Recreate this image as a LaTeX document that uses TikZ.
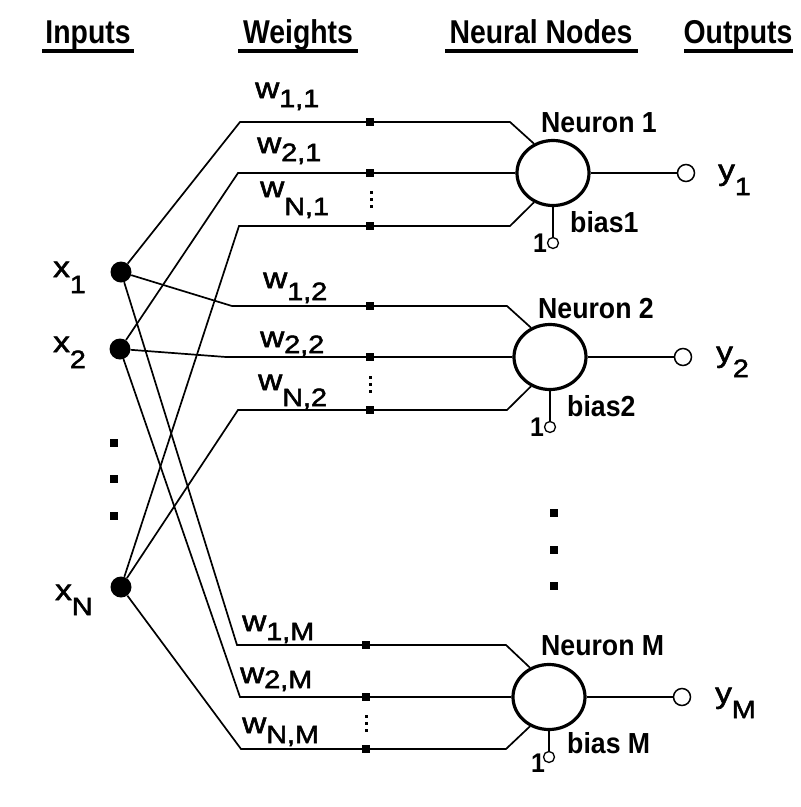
\documentclass[tikz,border=0pt]{standalone}
\usepackage{fontspec}
\setmainfont{Liberation Sans}
\newfontfamily\headfont{Liberation Sans}[FakeStretch=0.86]
\newfontfamily\tagfont{Liberation Sans}[FakeStretch=0.92]
\newfontfamily\varfont{Liberation Sans}[FakeStretch=1.15,FakeBold=2]
\usetikzlibrary{shapes.geometric}
% lowered subscript in a smaller size
\newcommand\lowsub[2]{\raisebox{-#1pt}{\fontsize{25}{25}\selectfont #2}}
\begin{document}
\begin{tikzpicture}[x=1pt,y=-1pt,
  wire/.style={line width=1.7pt},
  uline/.style={line width=3.2pt},
  neuron/.style={ellipse,draw,line width=3.2pt,minimum width=72pt,minimum height=65pt,inner sep=0pt},
  innode/.style={circle,fill,minimum size=21pt,inner sep=0pt},
  wmark/.style={rectangle,fill,minimum size=7.5pt,inner sep=0pt},
  tinydot/.style={rectangle,fill,minimum size=3pt,inner sep=0pt},
  bigdot/.style={rectangle,fill,minimum size=8pt,inner sep=0pt},
  outnode/.style={circle,draw,line width=1.5pt,fill=white,minimum size=17pt,inner sep=0pt},
  biasnode/.style={circle,draw,line width=1.3pt,fill=white,minimum size=11pt,inner sep=0pt},
  head/.style={font=\headfont\bfseries\fontsize{33}{33}\selectfont,inner sep=0pt,anchor=base},
  tag/.style={font=\tagfont\bfseries\fontsize{29}{29}\selectfont,inner sep=0pt,anchor=base west},
  one/.style={font=\tagfont\bfseries\fontsize{27}{27}\selectfont,inner sep=0pt,anchor=base},
  var/.style={font=\varfont\fontsize{29}{29}\selectfont,inner sep=0pt,anchor=base west}]
\useasboundingbox[fill=white] (0,0) rectangle (801,807);

% column headers
\node[head] (hin) at (88,43) {Inputs};
\node[head] (hw)  at (298,43) {Weights};
\node[head] (hn)  at (541,43) {Neural Nodes};
\node[head] (ho)  at (738,43) {Outputs};
\draw[uline] (42,51) -- (134,51);
\draw[uline] (238,51) -- (358,51);
\draw[uline] (445,51) -- (638,51);
\draw[uline] (684,51) -- (793,51);

% neurons
\node[neuron] (n1) at (553,173) {};
\node[neuron] (n2) at (550,357) {};
\node[neuron] (nm) at (549,697) {};

% bends and knees of the weighted connections
\coordinate (b11) at (240,122); \coordinate (k11) at (510,122);
\coordinate (b21) at (238,173);
\coordinate (bn1) at (239,226); \coordinate (kn1) at (510,226);
\coordinate (b12) at (232,306); \coordinate (k12) at (507,306);
\coordinate (b22) at (226,357);
\coordinate (bn2) at (238,410); \coordinate (kn2) at (507,410);
\coordinate (b1m) at (237,645); \coordinate (k1m) at (506,645);
\coordinate (b2m) at (240,697);
\coordinate (bnm) at (241,749); \coordinate (knm) at (506,749);

% inputs
\node[innode] (x1) at (121,272) {};
\node[innode] (x2) at (120,349) {};
\node[innode] (xn) at (121,587) {};

% connections to neuron 1
\draw[wire] (x1) -- (b11) -- (k11) -- (n1.123);
\draw[wire] (x2) -- (b21) -- (n1.west);
\draw[wire] (xn) -- (bn1) -- (kn1) -- (n1.237);
% connections to neuron 2
\draw[wire] (x1) -- (b12) -- (k12) -- (n2.123);
\draw[wire] (x2) -- (b22) -- (n2.west);
\draw[wire] (xn) -- (bn2) -- (kn2) -- (n2.237);
% connections to neuron M
\draw[wire] (x1) -- (b1m) -- (k1m) -- (nm.123);
\draw[wire] (x2) -- (b2m) -- (nm.west);
\draw[wire] (xn) -- (bnm) -- (knm) -- (nm.237);

% weight markers
\node[wmark] (m11) at (370,122) {};
\node[wmark] (m21) at (370,173) {};
\node[wmark] (mn1) at (370,226) {};
\node[wmark] (m12) at (370,306) {};
\node[wmark] (m22) at (370,357) {};
\node[wmark] (mn2) at (370,410) {};
\node[wmark] (m1m) at (366,645) {};
\node[wmark] (m2m) at (366,697) {};
\node[wmark] (mnm) at (366,749) {};
\foreach \y [count=\i] in {192,199,206} \node[tinydot] (ta\i) at (371,\y) {};
\foreach \y [count=\i] in {377,384,391} \node[tinydot] (tb\i) at (370,\y) {};
\foreach \y [count=\i] in {716,723,730} \node[tinydot] (tc\i) at (366,\y) {};

% weight labels
\node[var] (w11) at (255,98)  {w\lowsub{9}{1,1}};
\node[var] (w21) at (257,153) {w\lowsub{8}{2,1}};
\node[var] (wn1) at (260,197) {w\lowsub{18}{N,1}};
\node[var] (w12) at (263,288) {w\lowsub{12}{1,2}};
\node[var] (w22) at (260,347) {w\lowsub{6}{2,2}};
\node[var] (wn2) at (258,390) {w\lowsub{16}{N,2}};
\node[var] (w1m) at (242,631) {w\lowsub{9}{1,M}};
\node[var] (w2m) at (240,683) {w\lowsub{5}{2,M}};
\node[var] (wnm) at (242,733) {w\lowsub{10}{N,M}};

% input labels and elision dots
\node[var] (lx1) at (53,277) {x\lowsub{16}{1}};
\node[var] (lx2) at (53,352) {x\lowsub{16}{2}};
\node[var] (lxn) at (55,600) {x\lowsub{15}{N}};
\node[bigdot] (d1) at (114,443) {};
\node[bigdot] (d2) at (114,479) {};
\node[bigdot] (d3) at (114,516) {};
\node[bigdot] (e1) at (554,513) {};
\node[bigdot] (e2) at (554,550) {};
\node[bigdot] (e3) at (554,586) {};

% neuron titles
\node[tag] (t1) at (541,132) {Neuron 1};
\node[tag] (t2) at (538,318) {Neuron 2};
\node[tag] (tm) at (541,655) {Neuron M};

% outputs
\node[outnode] (o1) at (686,173) {};
\node[outnode] (o2) at (683,357) {};
\node[outnode] (om) at (682,697) {};
\draw[wire] (n1.east) -- (o1);
\draw[wire] (n2.east) -- (o2);
\draw[wire] (nm.east) -- (om);
\node[var] (ly1) at (718,180) {y\lowsub{15}{1}};
\node[var] (ly2) at (716,362) {y\lowsub{15}{2}};
\node[var] (lym) at (715,703) {y\lowsub{15}{M}};

% biases
\node[biasnode] (c1) at (553,243) {};
\node[biasnode] (c2) at (550,427) {};
\node[biasnode] (cm) at (549,757) {};
\draw[wire] (n1.south) -- (c1);
\draw[wire] (n2.south) -- (c2);
\draw[wire] (nm.south) -- (cm);
\node[one] (u1) at (540,252) {1};
\node[one] (u2) at (537,436) {1};
\node[one] (um) at (538,772) {1};
\node[tag] (bs1) at (570,232) {bias1};
\node[tag] (bs2) at (567,416) {bias2};
\node[tag] (bsm) at (567,753) {bias M};
\end{tikzpicture}
\end{document}
